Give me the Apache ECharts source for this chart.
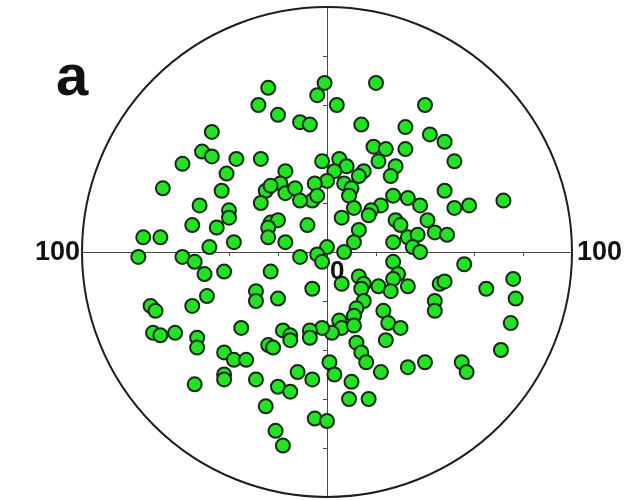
<!DOCTYPE html>
<html>
<head>
<meta charset="utf-8">
<script src="https://cdn.jsdelivr.net/npm/echarts@6/dist/echarts.min.js"></script>
<style>
  html, body { margin: 0; padding: 0; background: #fff; }
  #chart { width: 638px; height: 500px; }
</style>
</head>
<body>
<div id="chart"></div>
<script>
// 点的位置, 坐标范围 -100 .. 100
const xValues = [
  -24, -1, 20, -4, -28, 4, -20, -11, -7, 14, 32, 40, -47, 19, 24, 32, 42, 48, 52, -51,
  -47, -37, -59, -27, -2, 5, 8, 3, 21, 28, -17, 15, -41, 0, -5, -19, 7, 13, 26, 10,
  9, -25, -23, -17, -13, -6, -4, -11, -27, -67, -43, 48, 27, 33, -52, -40, -40, -55, -45, 38,
  52, 58, 72, 22, 11, 18, 17, 6, 28, 30, 41, 44, 49, -23, -20, -24, -8, 13, -75, -68,
  -48, -38, -24, -17, 11, 27, 33, 37, 35, 38, 0, -4, -11, 7, -77, -59, -54, -2, 27, 56,
  -50, -42, -23, 13, 29, 6, 15, 14, 21, 27, 26, 33, 46, 48, 65, 76, 77, -29, -6, -20,
  -49, -29, 44, 15, -55, -72, -70, 44, 12, 23, 11, 25, 30, 5, 6, 2, -2, 11, -7, -18,
  -15, -35, -71, -68, -62, -53, -53, 75, 12, -42, -38, -33, -24, -22, -15, -7, 14, 16, 24, 1,
  3, -12, -6, -29, -20, -15, 10, 22, 33, 9, 17, -25, -5, 0, -21, -18, -54, -42, -42, 71,
  40, 55, 57
]
const yValues = [
  67, 69, 69, 64, 60, 60, 56, 53, 52, 52, 51, 60, 49, 43, 42, 42, 48, 45, 37, 41,
  39, 38, 36, 38, 37, 38, 35, 33, 37, 35, 33, 33, 32, 29, 28, 28, 28, 31, 31, 26,
  23, 25, 27, 24, 26, 21, 23, 21, 20, 26, 25, 25, 23, 22, 19, 17, 14, 11, 10, 19,
  18, 19, 21, 19, 18, 17, 15, 14, 13, 11, 13, 8, 7, 12, 13, 10, 11, 9, 6, 6,
  2, 4, 6, 4, 4, 4, 6, 7, 2, 0, 2, -1, -2, 0, -2, -2, -4, -4, -4, -5,
  -9, -8, -8, -10, -9, -13, -13, -15, -14, -11, -16, -14, -13, -12, -15, -11, -19, -16, -15, -19,
  -18, -20, -20, -20, -22, -22, -24, -24, -23, -24, -26, -29, -31, -28, -31, -33, -31, -30, -32, -32,
  -34, -31, -33, -34, -33, -35, -39, -29, -37, -41, -44, -44, -38, -39, -36, -35, -41, -45, -36, -45,
  -50, -49, -52, -52, -55, -57, -53, -49, -47, -60, -60, -63, -68, -69, -73, -79, -54, -50, -52, -40,
  -45, -45, -49
]
const axisMin = -100
const axisMax = 100
const tickStep = 20
const edgeLabel = '100'
const originLabel = '0'
const panelLabel = 'a'

var chart = echarts.init(document.getElementById('chart'))
const points = xValues.map((x, i) => [x, yValues[i]])
const axisColor = '#4a4a4a'
const font = '"Liberation Sans", Arial, sans-serif'

function axis() {
  return {
    type: 'value',
    min: axisMin,
    max: axisMax,
    interval: tickStep,
    axisLine: { onZero: true, lineStyle: { color: axisColor, width: 1 } },
    axisTick: { length: 4, lineStyle: { color: axisColor, width: 1 } },
    axisLabel: { show: false },
    splitLine: { show: false }
  }
}

var option = {
  animation: false,
  backgroundColor: '#fff',
  grid: { left: 82, top: 7, width: 490, height: 490 },
  xAxis: axis(),
  yAxis: axis(),
  series: [{
    type: 'scatter',
    data: points,
    symbolSize: 14,
    z: 5,
    itemStyle: {
      color: '#22e322',
      borderColor: '#132a13',
      borderWidth: 2,
      opacity: 1
    }
  }]
}
chart.setOption(option)

// 外圆和文字, 位置由坐标轴换算
const c = chart.convertToPixel({ gridIndex: 0 }, [0, 0])
const r = chart.convertToPixel({ gridIndex: 0 }, [axisMax, 0])[0] - c[0]
const left = chart.convertToPixel({ gridIndex: 0 }, [axisMin, 0])
const right = chart.convertToPixel({ gridIndex: 0 }, [axisMax, 0])
chart.setOption({
  graphic: [
    {
      type: 'circle', z: 1,
      shape: { cx: c[0], cy: c[1], r: r },
      style: { fill: 'none', stroke: '#1e1e1e', lineWidth: 2 }
    },
    {
      type: 'text', z: 10, x: left[0] - 2, y: left[1] + 1,
      style: { text: edgeLabel, fill: '#111', font: 'bold 27px ' + font, textAlign: 'right', textVerticalAlign: 'middle' }
    },
    {
      type: 'text', z: 10, x: right[0] + 5, y: right[1] + 1,
      style: { text: edgeLabel, fill: '#111', font: 'bold 27px ' + font, textAlign: 'left', textVerticalAlign: 'middle' }
    },
    {
      type: 'text', z: 10, x: c[0] + 3, y: c[1] + 7,
      style: { text: originLabel, fill: '#111', font: 'bold 26px ' + font, textAlign: 'left', textVerticalAlign: 'top' }
    },
    {
      type: 'text', z: 10, x: 56, y: 108,
      style: { text: panelLabel, fill: '#111', font: 'bold 58px ' + font, textAlign: 'left', textVerticalAlign: 'bottom' }
    }
  ]
})
</script>
</body>
</html>
